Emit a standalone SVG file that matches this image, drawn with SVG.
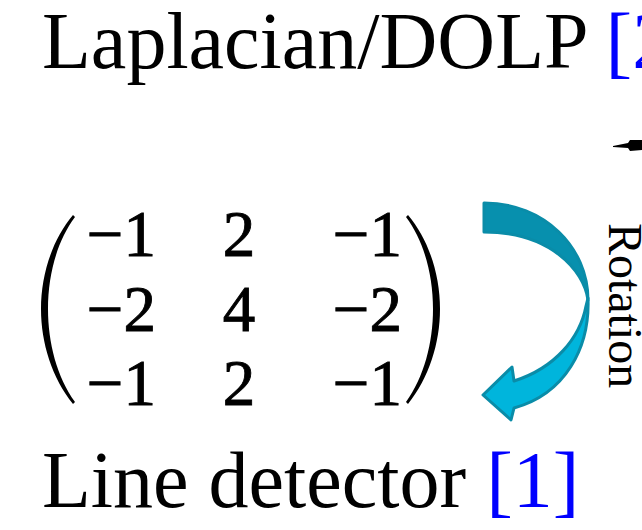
<svg xmlns="http://www.w3.org/2000/svg" width="642" height="530" viewBox="0 0 642 530">
<style>
.t{font-family:"Liberation Serif","Times New Roman",serif;font-size:80px;fill:#000}
.ref{fill:#0000FF}
.m{font-family:"Liberation Serif","DejaVu Serif",serif;font-size:65px;fill:#000;stroke:#000;stroke-width:0.9}
.rot{font-family:"Liberation Serif","Times New Roman",serif;font-size:48px;fill:#000}
.arrow{stroke:#0A8CA8;stroke-width:3;stroke-linejoin:round}
</style>
<rect width="642" height="530" fill="#fff"/>
<g id="title-top">
<text class="t" x="42" y="68">Laplacian/DOLP <tspan class="ref">[2</tspan></text>
</g>
<g id="matrix">
<path d="M73,215 C52,240 41,275 41,309 C41,343 52,378 73,404 L75,402 C57,377 48,343 48,309 C48,275 57,241 75,217 Z" fill="#000"/>
<path d="M408,215 C429,240 440,275 440,309 C440,343 429,378 408,404 L406,402 C424,377 433,343 433,309 C433,275 424,241 406,217 Z" fill="#000"/>
<text class="m" text-anchor="end" x="156" y="256">−1</text>
<text class="m" text-anchor="middle" x="239" y="256">2</text>
<text class="m" text-anchor="end" x="402" y="256">−1</text>
<text class="m" text-anchor="end" x="156" y="331">−2</text>
<text class="m" text-anchor="middle" x="239" y="331">4</text>
<text class="m" text-anchor="end" x="402" y="331">−2</text>
<text class="m" text-anchor="end" x="156" y="405">−1</text>
<text class="m" text-anchor="middle" x="239" y="405">2</text>
<text class="m" text-anchor="end" x="402" y="405">−1</text>
</g>
<g id="connectors">
<path class="arrow" fill="#0790AE" d="M484,203 C545,203 588,248 588,300 C584,270 550,232 484,232 Z"/>
<path class="arrow" fill="#00B5DC" d="M588,298 C590,348 565,394 514,408 L511,420 L483,395 L512,367 L514,381 C555,368 580,338 586,306 Z"/>
<polygon points="613,146 628,143 630,140 642,140 642,150 630,151 628,148 613,147" fill="#000"/>
</g>
<g id="rotation-label">
<text class="rot" transform="translate(609,223) rotate(90)">Rotation</text>
</g>
<g id="title-bottom">
<text class="t" x="42" y="507">Line detector <tspan class="ref">[1]</tspan></text>
</g>
</svg>
